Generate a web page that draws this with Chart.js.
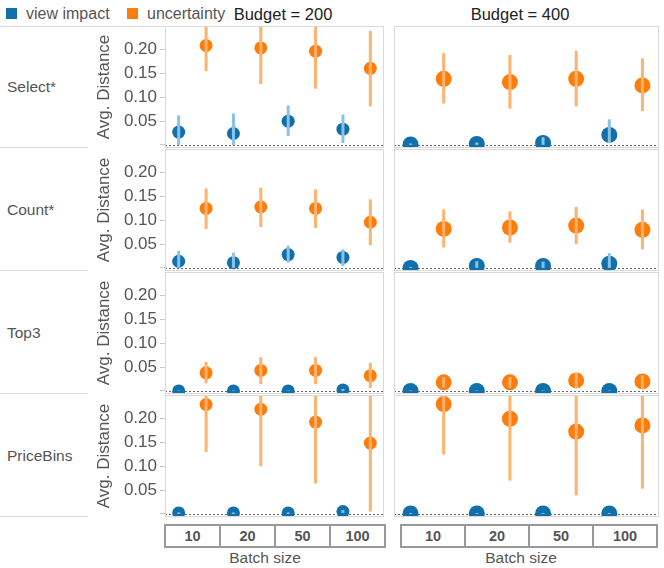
<!DOCTYPE html>
<html>
<head>
<meta charset="utf-8">
<script src="https://cdn.jsdelivr.net/npm/chart.js@4.4.0/dist/chart.umd.min.js"></script>
<style>
  body { margin: 0; width: 664px; height: 568px; background: #fff; position: relative; overflow: hidden;
         font-family: "Liberation Sans", Arial, sans-serif; color: #555; }
  .abs { position: absolute; white-space: nowrap; }
  .line { position: absolute; height: 1px; background: #d9d9d9; }
  .axisbox { position: absolute; display: flex; border: 2px solid #999; box-sizing: border-box; height: 24px; }
  .axisbox div { flex: 1; text-align: center; font-weight: bold; font-size: 14.5px; line-height: 20px; color: #555; }
  .axisbox div + div { border-left: 2px solid #999; }
  canvas { position: absolute; }
</style>
</head>
<body>
<script>
// categories
const batchSizes = ['10', '20', '50', '100'];
const queries = ['Select*', 'Count*', 'Top3', 'PriceBins'];
const budgets = ['Budget = 200', 'Budget = 400'];
const seriesNames = ['view impact', 'uncertainty'];
const yTicks = [0, 0.05, 0.10, 0.15, 0.20];

// [low, mean, high] per batch size
const select200View = [[0.000, 0.027, 0.062], [0.000, 0.024, 0.066], [0.019, 0.050, 0.083], [0.004, 0.033, 0.064]];
const select200Unc  = [[0.155, 0.209, 0.263], [0.128, 0.204, 0.280], [0.118, 0.197, 0.276], [0.081, 0.161, 0.240]];
const select400View = [[0.000, 0.001, 0.003], [0.000, 0.002, 0.005], [0.000, 0.004, 0.016], [0.004, 0.021, 0.054]];
const select400Unc  = [[0.087, 0.139, 0.193], [0.076, 0.132, 0.189], [0.081, 0.139, 0.198], [0.071, 0.125, 0.182]];

const count200View = [[0.002, 0.014, 0.036], [0.000, 0.011, 0.032], [0.011, 0.028, 0.047], [0.004, 0.022, 0.039]];
const count200Unc  = [[0.082, 0.125, 0.167], [0.086, 0.128, 0.169], [0.084, 0.125, 0.165], [0.048, 0.096, 0.144]];
const count400View = [[0.000, 0.000, 0.002], [0.000, 0.004, 0.014], [0.000, 0.004, 0.013], [0.000, 0.009, 0.031]];
const count400Unc  = [[0.043, 0.082, 0.123], [0.053, 0.085, 0.119], [0.050, 0.089, 0.128], [0.039, 0.080, 0.123]];

const top200View = [[0.000, 0.000, 0.001], [0.000, 0.000, 0.001], [0.000, 0.000, 0.001], [0.000, 0.002, 0.004]];
const top200Unc  = [[0.016, 0.038, 0.061], [0.014, 0.043, 0.071], [0.014, 0.043, 0.071], [0.006, 0.032, 0.059]];
const top400View = [[0.000, 0.000, 0.001], [0.000, 0.000, 0.001], [0.000, 0.000, 0.001], [0.000, 0.000, 0.001]];
const top400Unc  = [[0.007, 0.018, 0.029], [0.007, 0.018, 0.029], [0.006, 0.022, 0.038], [0.004, 0.020, 0.033]];

const bins200View = [[0.000, 0.002, 0.003], [0.000, 0.002, 0.003], [0.000, 0.002, 0.003], [0.002, 0.005, 0.008]];
const bins200Unc  = [[0.130, 0.230, 0.330], [0.100, 0.220, 0.340], [0.064, 0.193, 0.322], [0.005, 0.149, 0.293]];
const bins400View = [[0.000, 0.001, 0.002], [0.000, 0.001, 0.002], [0.000, 0.001, 0.002], [0.000, 0.001, 0.002]];
const bins400Unc  = [[0.125, 0.231, 0.337], [0.070, 0.200, 0.330], [0.039, 0.173, 0.307], [0.053, 0.186, 0.319]];

const facets = [
  [[select200View, select200Unc], [select400View, select400Unc]],
  [[count200View, count200Unc], [count400View, count400Unc]],
  [[top200View, top200Unc], [top400View, top400Unc]],
  [[bins200View, bins200Unc], [bins400View, bins400Unc]]
];

const dotColors = ['#1170aa', '#fc7d0b'];
const barColors = ['#8cc2e8', '#ffb26e'];
const dodge = [-0.25, 0.25];
const fontFamily = '"Liberation Sans", Arial, sans-serif';

// layout
const rowTops = [26, 149, 272, 395];
const rowH = 122;
const cols = [
  { left: 90, width: 294, axis: 75, radius: 6.5, headX: 283 },
  { left: 394, width: 265, axis: 0, radius: 8, headX: 520 }
];

function addEl(cls, css, text) {
  const d = document.createElement('div');
  d.className = cls;
  Object.assign(d.style, css);
  if (text !== undefined) d.textContent = text;
  document.body.appendChild(d);
  return d;
}

// legend + headers
[6, 127].forEach((x, i) => {
  addEl('abs', { left: x + 'px', top: '8px', width: '11px', height: '11px', background: dotColors[i] });
  addEl('abs', { left: (x + 20) + 'px', top: '4px', fontSize: '16px', lineHeight: '19px' }, seriesNames[i]);
});
cols.forEach((c, i) => {
  addEl('abs', { left: c.headX + 'px', top: '4px', fontSize: '16.5px', lineHeight: '20px', color: '#222',
                 transform: 'translateX(-50%)' }, budgets[i]);
});

// row labels and dividers
addEl('line', { left: '0px', top: '26px', width: '165px' });
queries.forEach((q, r) => {
  addEl('abs', { left: '7px', top: (rowTops[r] + rowH / 2 - 10) + 'px', fontSize: '15.5px', lineHeight: '20px' }, q);
  addEl('line', { left: '0px', top: (rowTops[r] + rowH - 1) + 'px', width: '88px' });
});

// plugins
const frame = {
  id: 'frame',
  beforeDatasetsDraw(chart) {
    const { ctx, chartArea: a, scales: { y } } = chart;
    const py = Math.round(y.getPixelForValue(0)) + 0.5;
    ctx.save();
    ctx.strokeStyle = '#666';
    ctx.lineWidth = 1;
    ctx.setLineDash([2, 2]);
    ctx.beginPath();
    ctx.moveTo(a.left, py);
    ctx.lineTo(a.right, py);
    ctx.stroke();
    ctx.restore();
  },
  afterDatasetsDraw(chart) {
    const { ctx, chartArea: a, scales: { x, y } } = chart;
    ctx.save();
    ctx.beginPath();
    ctx.rect(a.left, a.top, a.width, a.height);
    ctx.clip();
    ctx.lineWidth = 3;
    chart.data.datasets.forEach(ds => {
      ctx.strokeStyle = ds.errColor;
      ds.data.forEach(p => {
        const px = x.getPixelForValue(p.x);
        ctx.beginPath();
        ctx.moveTo(px, y.getPixelForValue(p.lo));
        ctx.lineTo(px, y.getPixelForValue(p.hi));
        ctx.stroke();
      });
    });
    ctx.restore();
  },
  afterDraw(chart) {
    const { ctx, chartArea: a } = chart;
    ctx.save();
    ctx.strokeStyle = '#d9d9d9';
    ctx.lineWidth = 1;
    ctx.strokeRect(a.left + 0.5, a.top + 0.5, a.width - 1, a.height - 1);
    ctx.restore();
  }
};

// charts
queries.forEach((q, r) => {
  cols.forEach((c, ci) => {
    const canvas = document.createElement('canvas');
    canvas.width = c.width;
    canvas.height = rowH;
    canvas.style.left = c.left + 'px';
    canvas.style.top = rowTops[r] + 'px';
    document.body.appendChild(canvas);

    const datasets = facets[r][ci].map((series, si) => ({
      label: seriesNames[si],
      data: series.map((v, i) => ({ x: i + dodge[si], y: v[1], lo: v[0], hi: v[2] })),
      backgroundColor: dotColors[si],
      borderWidth: 0,
      pointRadius: c.radius,
      pointHoverRadius: c.radius,
      errColor: barColors[si],
      clip: 0
    }));

    new Chart(canvas, {
      type: 'scatter',
      data: { datasets },
      options: {
        responsive: false,
        animation: false,
        events: [],
        layout: { padding: 0, autoPadding: false },
        plugins: { legend: { display: false }, tooltip: { enabled: false } },
        scales: {
          x: { type: 'linear', min: -0.5, max: batchSizes.length - 0.5, display: false },
          y: {
            min: -0.0065,
            max: 0.25,
            display: ci === 0,
            afterBuildTicks: axis => { axis.ticks = yTicks.map(v => ({ value: v })); },
            afterFit: axis => { axis.width = c.axis; axis.paddingTop = 0; axis.paddingBottom = 0; },
            border: { display: false },
            grid: { drawOnChartArea: false, drawTicks: true, tickLength: 5, color: '#c8c8c8' },
            ticks: {
              padding: 3,
              color: '#555',
              font: { family: fontFamily, size: 17 },
              callback: v => (v === 0 ? '' : v.toFixed(2))
            },
            title: {
              display: true,
              text: 'Avg. Distance',
              color: '#555',
              padding: { top: 4, bottom: 0 },
              font: { family: fontFamily, size: 17 }
            }
          }
        }
      },
      plugins: [frame]
    });
  });
});

// x axis boxes
const boxes = [{ left: 164, width: 222, label: 265 }, { left: 400, width: 258, label: 521 }];
boxes.forEach(b => {
  const box = addEl('axisbox', { left: b.left + 'px', top: '524px', width: b.width + 'px' });
  batchSizes.forEach(s => {
    const cell = document.createElement('div');
    cell.textContent = s;
    box.appendChild(cell);
  });
  addEl('abs', { left: b.label + 'px', top: '548px', fontSize: '15.5px', lineHeight: '19px',
                 transform: 'translateX(-50%)' }, 'Batch size');
});
</script>
</body>
</html>
